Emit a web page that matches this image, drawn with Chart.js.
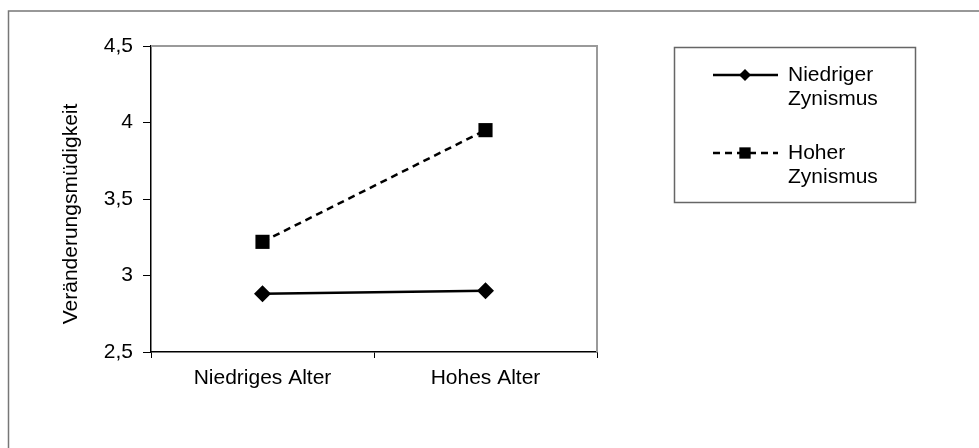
<!DOCTYPE html>
<html>
<head>
<meta charset="utf-8">
<script src="https://cdn.jsdelivr.net/npm/chart.js@4/dist/chart.umd.min.js"></script>
<style>
  html, body { margin: 0; padding: 0; background: #fff; }
  #wrap { width: 979px; height: 448px; }
</style>
</head>
<body>
<div id="wrap"><canvas id="c" width="979" height="448"></canvas></div>
<script>
// Categories and series values
const categories = ['Niedriges Alter', 'Hohes Alter'];
const niedrigerZynismus = [2.88, 2.90];
const hoherZynismus = [3.22, 3.95];
const seriesLabels = [['Niedriger', 'Zynismus'], ['Hoher', 'Zynismus']];
const yTickValues = [2.5, 3, 3.5, 4, 4.5];
const yAxisTitle = 'Veränderungsmüdigkeit';

const FONT = '"Liberation Sans", Arial, sans-serif';
const FONT_SIZE = 21;

// Frame around the whole figure, gray plot border, rotated y title and the boxed legend
const decorations = {
  id: 'decorations',
  beforeDraw(chart) {
    const ctx = chart.ctx;
    ctx.save();
    ctx.strokeStyle = '#777';
    ctx.lineWidth = 1.5;
    ctx.beginPath();
    ctx.moveTo(8.5, 448);
    ctx.lineTo(8.5, 11);
    ctx.lineTo(979, 11);
    ctx.stroke();
    ctx.restore();
  },
  afterDatasetsDraw(chart) {
    const ctx = chart.ctx;
    const a = chart.chartArea;
    ctx.save();
    // gray top and right edges of the plot area
    ctx.strokeStyle = '#9a9a9a';
    ctx.lineWidth = 2;
    ctx.beginPath();
    ctx.moveTo(a.left, a.top);
    ctx.lineTo(a.right, a.top);
    ctx.lineTo(a.right, a.bottom);
    ctx.stroke();

    // y axis title
    ctx.fillStyle = '#000';
    ctx.font = FONT_SIZE + 'px ' + FONT;
    ctx.textAlign = 'center';
    ctx.textBaseline = 'middle';
    ctx.translate(71, 214);
    ctx.rotate(-Math.PI / 2);
    ctx.fillText(yAxisTitle, 0, 0);
    ctx.restore();

    // legend
    ctx.save();
    const box = { x: 674.5, y: 47.5, w: 241, h: 155 };
    ctx.strokeStyle = '#666';
    ctx.lineWidth = 1.5;
    ctx.strokeRect(box.x, box.y, box.w, box.h);
    const rowY = [75, 153];
    const lineGap = 24;
    chart.data.datasets.forEach((ds, i) => {
      const y = rowY[i];
      ctx.strokeStyle = ds.borderColor;
      ctx.lineWidth = ds.borderWidth;
      ctx.setLineDash(ds.borderDash || []);
      ctx.beginPath();
      ctx.moveTo(713, y);
      ctx.lineTo(778, y);
      ctx.stroke();
      ctx.setLineDash([]);
      Chart.helpers.drawPoint(ctx, {
        pointStyle: ds.pointStyle,
        radius: ds.legendPointRadius,
        borderWidth: 0
      }, 745, y);
      ctx.fillStyle = '#000';
      ctx.font = FONT_SIZE + 'px ' + FONT;
      ctx.textAlign = 'left';
      ctx.textBaseline = 'middle';
      ds.legendLines.forEach((t, k) => ctx.fillText(t, 788, y + k * lineGap));
    });
    ctx.restore();
  }
};

new Chart(document.getElementById('c'), {
  type: 'line',
  data: {
    labels: categories,
    datasets: [
      {
        label: seriesLabels[0].join(' '),
        legendLines: seriesLabels[0],
        data: niedrigerZynismus,
        borderColor: '#000',
        backgroundColor: '#000',
        borderWidth: 2.5,
        pointStyle: 'rectRot',
        pointRadius: 8.5,
        legendPointRadius: 6,
        pointBorderWidth: 0,
        pointBackgroundColor: '#000',
        tension: 0
      },
      {
        label: seriesLabels[1].join(' '),
        legendLines: seriesLabels[1],
        data: hoherZynismus,
        borderColor: '#000',
        backgroundColor: '#000',
        borderWidth: 2.5,
        borderDash: [7, 5],
        pointStyle: 'rect',
        pointRadius: 10,
        legendPointRadius: 8,
        pointBorderWidth: 0,
        pointBackgroundColor: '#000',
        tension: 0
      }
    ]
  },
  options: {
    responsive: false,
    animation: false,
    devicePixelRatio: 1,
    layout: { padding: { left: 0, top: 46, right: 382, bottom: 0 } },
    plugins: {
      legend: { display: false },
      tooltip: { enabled: false }
    },
    scales: {
      x: {
        type: 'category',
        offset: true,
        afterFit(s) { s.height = 96; },
        grid: {
          offset: true,
          drawOnChartArea: false,
          drawTicks: true,
          tickLength: 6,
          color: '#000',
          lineWidth: 1
        },
        border: { color: '#000', width: 1.5 },
        ticks: {
          color: '#000',
          padding: 8,
          maxRotation: 0,
          font: { family: FONT, size: FONT_SIZE }
        }
      },
      y: {
        min: 2.5,
        max: 4.5,
        afterFit(s) { s.width = 151; },
        afterBuildTicks(s) { s.ticks = yTickValues.map(v => ({ value: v })); },
        grid: {
          drawOnChartArea: false,
          drawTicks: true,
          tickLength: 8,
          color: '#000',
          lineWidth: 1
        },
        border: { color: '#000', width: 1.5 },
        ticks: {
          color: '#000',
          padding: 10,
          font: { family: FONT, size: FONT_SIZE },
          callback: v => String(v).replace('.', ',')
        }
      }
    }
  },
  plugins: [decorations]
});
</script>
</body>
</html>
